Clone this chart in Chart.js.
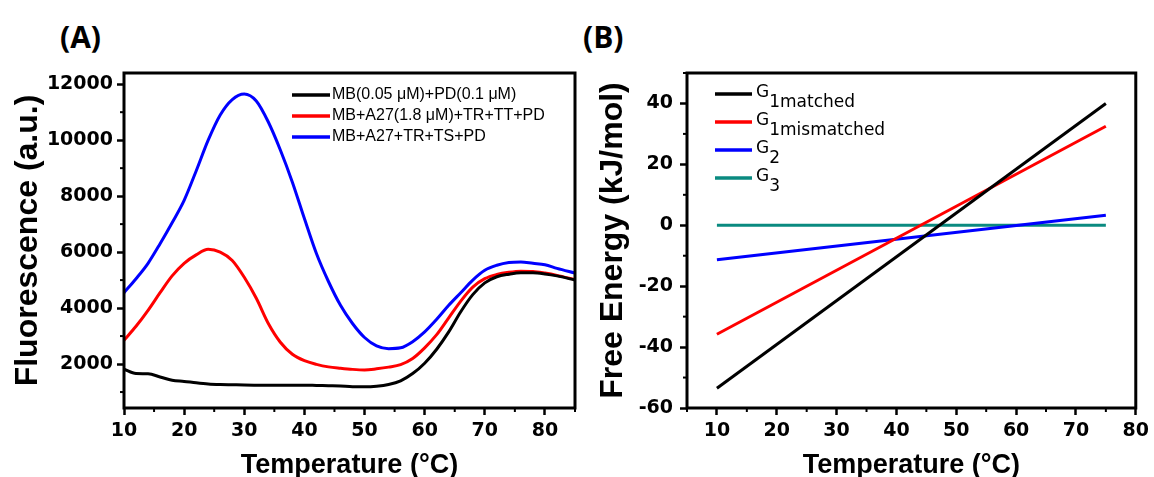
<!DOCTYPE html>
<html>
<head>
<meta charset="utf-8">
<script src="https://cdn.jsdelivr.net/npm/chart.js@4.4.0/dist/chart.umd.min.js"></script>
<style>
  html, body { margin: 0; padding: 0; background: #fff; }
  body { width: 1154px; height: 477px; overflow: hidden; position: relative; }
  .panel { position: absolute; top: 0; height: 500px; }
  #wrapA { left: 0; width: 580px; }
  #wrapB { left: 580px; width: 574px; }
  .tag { position: absolute; font-family: "Open Sans", Lato, sans-serif; font-weight: bold; font-size: 30px; line-height: 30px; color: #000; }
  #tagA { left: 60px; top: 22px; }
  #tagB { left: 583px; top: 22px; }
</style>
</head>
<body>
<div class="tag" id="tagA">(A)</div>
<div class="tag" id="tagB">(B)</div>
<div class="panel" id="wrapA"><canvas id="chartA" width="580" height="500"></canvas></div>
<div class="panel" id="wrapB"><canvas id="chartB" width="574" height="500"></canvas></div>
<script>
// PANEL A - fluorescence melting curves
const tempA = [10, 12, 14, 16, 18, 20, 22, 24, 26, 28, 30, 32, 34, 36, 38, 40, 42, 44, 46, 48,
  50, 52, 54, 56, 58, 60, 62, 64, 66, 68, 70, 72, 74, 76, 78, 80, 82, 85];
const fluorBlack = [1820, 1660, 1650, 1540, 1420, 1380, 1330, 1290, 1270, 1260, 1250, 1245, 1245, 1245, 1240, 1245, 1235, 1225, 1215, 1190,
  1190, 1210, 1270, 1400, 1660, 2030, 2530, 3150, 3870, 4480, 4900, 5120, 5210, 5260, 5260, 5220, 5150, 5000];
const fluorRed = [2850, 3350, 3920, 4550, 5150, 5600, 5900, 6100, 6000, 5700, 5100, 4350, 3450, 2780, 2350, 2120, 1990, 1900, 1850, 1810,
  1790, 1830, 1890, 1980, 2200, 2580, 3050, 3650, 4250, 4750, 5050, 5200, 5280, 5320, 5310, 5250, 5170, 5020];
const fluorBlue = [4550, 5050, 5600, 6300, 7050, 7850, 8900, 10000, 10900, 11450, 11650, 11400, 10650, 9650, 8500, 7200, 5950, 4950, 4100, 3450,
  2950, 2650, 2550, 2580, 2800, 3150, 3600, 4100, 4550, 5000, 5350, 5530, 5630, 5650, 5600, 5550, 5420, 5250];
const namesA = ["MB(0.05 \u03bcM)+PD(0.1 \u03bcM)", "MB+A27(1.8 \u03bcM)+TR+TT+PD", "MB+A27+TR+TS+PD"];
const xTicksA = [10, 20, 30, 40, 50, 60, 70, 80];
const xMinorA = [15, 25, 35, 45, 55, 65, 75, 85];
const yTicksA = [2000, 4000, 6000, 8000, 10000, 12000];
const yMinorA = [1000, 3000, 5000, 7000, 9000, 11000];

// PANEL B - free energy vs temperature
const tempB = [10, 75];
const g1matched = [-53.5, 40];
const g1mismatched = [-35.8, 32.5];
const g2 = [-11.3, 3.3];
const g3 = [0, 0];
const namesB = ["G", "G", "G", "G"];
const subsB = ["1matched", "1mismatched", "2", "3"];
const xTicksB = [10, 20, 30, 40, 50, 60, 70, 80];
const xMinorB = [5, 15, 25, 35, 45, 55, 65, 75];
const yTicksB = [-60, -40, -20, 0, 20, 40];
const yMinorB = [-50, -30, -10, 10, 30, 50];

function pts(xs, ys) {
  return xs.map((x, i) => ({ x: x, y: ys[i] }));
}

// box around plot + short minor ticks
const framePlugin = {
  id: "frame",
  afterDatasetsDraw(chart, args, opts) {
    const { ctx, chartArea: a, scales } = chart;
    ctx.save();
    ctx.strokeStyle = "#000";
    ctx.lineWidth = 2;
    opts.xMinor.forEach(v => {
      const px = scales.x.getPixelForValue(v);
      ctx.beginPath(); ctx.moveTo(px, a.bottom); ctx.lineTo(px, a.bottom + 4); ctx.stroke();
    });
    opts.yMinor.forEach(v => {
      const py = scales.y.getPixelForValue(v);
      ctx.beginPath(); ctx.moveTo(a.left, py); ctx.lineTo(a.left - 4, py); ctx.stroke();
    });
    ctx.lineWidth = 3;
    ctx.strokeRect(a.left, a.top, a.right - a.left, a.bottom - a.top);
    ctx.restore();
  }
};

// legend inside the frame, with optional subscript
const legendPlugin = {
  id: "boxLegend",
  afterDraw(chart, args, opts) {
    const ctx = chart.ctx;
    ctx.save();
    chart.data.datasets.forEach((ds, i) => {
      const y = opts.y + i * opts.dy;
      ctx.strokeStyle = ds.borderColor;
      ctx.lineWidth = 3.5;
      ctx.beginPath(); ctx.moveTo(opts.x, y); ctx.lineTo(opts.x + opts.len, y); ctx.stroke();
      ctx.fillStyle = "#000";
      ctx.font = opts.font;
      ctx.textBaseline = "middle";
      ctx.textAlign = "left";
      const tx = opts.x + opts.len + opts.gap;
      ctx.fillText(ds.label, tx, y + opts.textDy);
      if (ds.sub) {
        const w = ctx.measureText(ds.label).width;
        ctx.fillText(ds.sub, tx + w, y + opts.subDy);
      }
    });
    ctx.restore();
  }
};

const tickFont = { family: "DejaVu Sans", weight: "bold", size: 19 };
const titleFont = { family: "Liberation Sans", weight: "bold", size: 27 };
const yTitleFont = { family: "Liberation Sans", weight: "bold", size: 32 };

function axis(min, max, ticks, extra) {
  return Object.assign({
    type: "linear",
    min: min,
    max: max,
    afterBuildTicks: s => { s.ticks = ticks.map(v => ({ value: v })); },
    grid: { drawOnChartArea: false, tickLength: 7, tickWidth: 2.5, tickColor: "#000" },
    border: { display: false },
    ticks: { color: "#000", font: tickFont, maxRotation: 0, autoSkip: false, callback: v => String(v) }
  }, extra);
}

function options(c) {
  return {
    responsive: false,
    animation: false,
    layout: { padding: { top: 73, right: c.padRight, left: 0, bottom: 0 } },
    elements: { point: { radius: 0 }, line: { borderWidth: 3 } },
    plugins: {
      legend: { display: false },
      tooltip: { enabled: false },
      frame: { xMinor: c.xMinor, yMinor: c.yMinor },
      boxLegend: c.legend
    },
    scales: {
      x: axis(c.xMin, c.xMax, c.xTicks, {
        afterFit: s => { s.height = 92; },
        title: { display: true, text: "Temperature (\u00b0C)", color: "#000", font: titleFont, padding: { top: 0, bottom: 18 } }
      }),
      y: axis(c.yMin, c.yMax, c.yTicks, {
        afterFit: s => { s.width = c.yWidth; },
        title: { display: true, text: c.yTitle, color: "#000", font: yTitleFont, padding: { top: c.yTitlePad, bottom: 0 } }
      })
    }
  };
}
const optA = options({
  padRight: 5, xMin: 10, xMax: 85, xTicks: xTicksA, xMinor: xMinorA,
  yMin: 430, yMax: 12400, yTicks: yTicksA, yMinor: yMinorA, yWidth: 124, yTitlePad: 9,
  yTitle: "Fluorescence (a.u.)",
  legend: { x: 292, y: 95, dy: 21, len: 38, gap: 2, font: "16px 'Liberation Sans'", textDy: 0, subDy: 0 }
});
optA.scales.y.ticks.padding = 4;
optA.scales.x.ticks.padding = 5;

const optB = options({
  padRight: 17, xMin: 5, xMax: 80, xTicks: xTicksB, xMinor: xMinorB,
  yMin: -60, yMax: 50, yTicks: yTicksB, yMinor: yMinorB, yWidth: 107, yTitlePad: 14,
  yTitle: "Free Energy (kJ/mol)",
  legend: { x: 135, y: 94, dy: 28, len: 37, gap: 4, font: "17px 'DejaVu Sans'", textDy: -1, subDy: 9 }
});
optB.scales.y.ticks.padding = 7;
optB.scales.x.ticks.padding = 5;

new Chart(document.getElementById("chartA"), {
  type: "line",
  data: {
    datasets: [
      { label: namesA[0], data: pts(tempA, fluorBlack), borderColor: "#000000", cubicInterpolationMode: "monotone" },
      { label: namesA[1], data: pts(tempA, fluorRed), borderColor: "#ff0000", cubicInterpolationMode: "monotone" },
      { label: namesA[2], data: pts(tempA, fluorBlue), borderColor: "#0000ff", cubicInterpolationMode: "monotone" }
    ]
  },
  options: optA,
  plugins: [framePlugin, legendPlugin]
});

new Chart(document.getElementById("chartB"), {
  type: "line",
  data: {
    datasets: [
      { label: namesB[0], sub: subsB[0], data: pts(tempB, g1matched), borderColor: "#000000" },
      { label: namesB[1], sub: subsB[1], data: pts(tempB, g1mismatched), borderColor: "#ff0000" },
      { label: namesB[2], sub: subsB[2], data: pts(tempB, g2), borderColor: "#0000ff" },
      { label: namesB[3], sub: subsB[3], data: pts(tempB, g3), borderColor: "#0a8a80" }
    ]
  },
  options: optB,
  plugins: [framePlugin, legendPlugin]
});
</script>
</body>
</html>
